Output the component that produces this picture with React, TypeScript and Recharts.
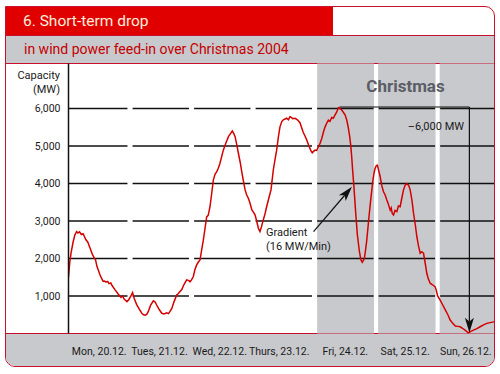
import React from "react";
import {
  ComposedChart,
  Line,
  XAxis,
  YAxis,
  ReferenceArea,
  ReferenceLine,
} from "recharts";

// hours since Mon 20.12. 00:00
const hours = [
  0, 0.5, 1.0, 1.8, 2.5, 3.2, 3.7, 4.3, 5.0, 5.7, 6.8, 7.5, 8.4, 9.2, 10.0, 10.5,
  11.1, 12.3, 13.5, 14.1, 14.6, 15.3, 15.8, 16.5, 17.0, 18.1, 19.3, 20.0, 20.5,
  21.1, 21.7, 22.3, 22.8, 23.5, 24.2, 25.0, 25.6, 26.6, 27.6, 28.6, 29.3, 29.9,
  30.5, 31.1, 32.0, 33.1, 33.8, 34.4, 35.4, 36.4, 37.3, 38.3, 39.0, 39.6, 40.3,
  41.2, 42.2, 42.8, 43.5, 44.2, 45.0, 46.1, 47.0, 47.4, 48.0, 48.7, 49.3, 50.0,
  50.6, 51.3, 52.0, 52.6, 53.3, 53.9, 54.5, 55.2, 55.8, 56.5, 57.2, 57.8, 58.4,
  59.1, 60.4, 61.4, 62.4, 63.2, 63.9, 64.5, 65.0, 65.6, 66.3, 67.0, 67.6, 68.2,
  68.9, 69.5, 70.2, 70.8, 71.5, 72.2, 72.8, 73.4, 74.1, 74.7, 75.3, 76.0, 76.7,
  77.3, 78.2, 79.0, 79.9, 80.6, 81.2, 81.9, 82.5, 83.2, 83.8, 84.5, 85.1, 85.8,
  86.4, 86.8, 87.5, 88.4, 89.3, 90.3, 91.0, 91.6, 92.3, 93.0, 93.8, 94.6, 95.1,
  95.5, 96.2, 96.8, 97.5, 98.2, 98.8, 99.5, 100.1, 100.8, 101.4, 102.0, 102.7,
  103.3, 104.0, 104.6, 105.3, 105.9, 106.6, 107.2, 107.9, 108.6, 109.2, 109.7,
  110.1, 110.5, 110.8, 111.4, 112.1, 112.7, 113.5, 114.1, 114.6, 115.0, 115.4,
  115.8, 116.3, 116.8, 117.2, 117.7, 118.2, 118.7, 119.2, 119.6, 120.1, 120.5,
  121.0, 121.6, 122.2, 122.9, 123.5, 124.2, 124.8, 125.5, 125.9, 126.3, 126.8,
  127.4, 128.1, 128.7, 129.4, 130.0, 130.7, 131.3, 132.0, 132.7, 133.3, 134.0,
  134.6, 135.3, 135.9, 136.5, 137.2, 137.8, 138.5, 139.1, 139.8, 140.4, 141.1,
  142.0, 143.0, 143.5, 144.0, 145.0, 146.0, 147.0, 148.0, 148.9, 149.9, 150.9,
  151.8, 152.8, 153.7, 154.7, 155.4, 156.0, 156.8, 158.0, 159.3, 160.6, 161.9,
  163.2, 164.5, 165.8, 166.0,
];

// wind power feed-in, MW
const capacity = [
  1500, 1900, 2150, 2440, 2630, 2720, 2680, 2710, 2640, 2660, 2500, 2440, 2280,
  2130, 2020, 1980, 1790, 1560, 1390, 1400, 1370, 1390, 1330, 1350, 1280, 1170,
  1060, 1000, 960, 1000, 920, 880, 850, 900, 980, 1090, 940, 770, 650, 540, 500,
  490, 510, 580, 750, 870, 840, 760, 640, 540, 520, 550, 530, 590, 670, 850,
  1030, 1060, 1120, 1170, 1300, 1430, 1410, 1380, 1430, 1520, 1700, 1830, 1900,
  1960, 2250, 2490, 2820, 3110, 3150, 3380, 3700, 4090, 4250, 4310, 4400, 4540,
  4890, 5080, 5250, 5330, 5400, 5330, 5250, 5050, 4800, 4560, 4310, 4080, 3830,
  3700, 3600, 3480, 3300, 3230, 3160, 3000, 2800, 2720, 2850, 3030, 3200, 3380,
  3620, 3830, 4360, 4650, 4890, 5250, 5510, 5650, 5700, 5720, 5740, 5700, 5780,
  5770, 5730, 5740, 5700, 5620, 5480, 5360, 5260, 5150, 5000, 4870, 4820, 4850,
  4890, 4880, 4980, 5080, 5200, 5380, 5510, 5620, 5690, 5660, 5760, 5740, 5830,
  5900, 6020, 6000, 5960, 5900, 5830, 5680, 5470, 5250, 5030, 4700, 4400, 3870,
  3160, 2630, 2180, 1960, 1900, 1940, 2000, 2180, 2450, 2800, 3100, 3430, 3750,
  4050, 4280, 4400, 4480, 4490, 4350, 4180, 3950, 3780, 3700, 3560, 3450, 3290,
  3350, 3200, 3160, 3280, 3250, 3400, 3380, 3600, 3830, 3950, 4000, 3950, 3830,
  3550, 3210, 2900, 2580, 2350, 2140, 2180, 2140, 1900, 1600, 1450, 1340, 1300,
  1250, 1150, 1000, 890, 760, 630, 500, 360, 270, 200, 190, 180, 140, 90, 50, 20,
  50, 90, 130, 180, 230, 270, 290, 310, 320,
];

const dayLabels = [
  "Mon, 20.12.",
  "Tues, 21.12.",
  "Wed, 22.12.",
  "Thurs, 23.12.",
  "Fri, 24.12.",
  "Sat, 25.12.",
  "Sun, 26.12.",
];
// where each day label sits, in hours
const dayTicks = [12, 35.5, 59, 82.2, 108, 131.3, 155];
const yTicks = [1000, 2000, 3000, 4000, 5000, 6000];
const christmasDays = [4, 5, 6]; // Fri, Sat, Sun

const X_MAX = 166;
const rows = hours.map((h, i) => ({ h, mw: capacity[i] }));

const RED = "#c8102e";
const GREY = "#c8c9cd";
const FONT = "Roboto, sans-serif";

const ArrowLine = (props: any) => {
  const { x1, y1, x2, y2 } = props;
  const dx = x2 - x1;
  const dy = y2 - y1;
  const len = Math.sqrt(dx * dx + dy * dy) || 1;
  const ux = dx / len;
  const uy = dy / len;
  const L = 15;
  const W = 4.5;
  const bx = x2 - ux * L;
  const by = y2 - uy * L;
  const nx = x2 - ux * L * 0.75;
  const ny = y2 - uy * L * 0.75;
  const pts = [
    `${x2},${y2}`,
    `${bx - uy * W},${by + ux * W}`,
    `${nx},${ny}`,
    `${bx + uy * W},${by - ux * W}`,
  ].join(" ");
  return (
    <g>
      <line x1={x1} y1={y1} x2={nx} y2={ny} stroke="#111" strokeWidth={1.2} />
      <polygon points={pts} fill="#111" />
    </g>
  );
};

const DayTick = ({ x, y, payload }: any) => (
  <text
    x={x}
    y={y + 21.5}
    textAnchor="middle"
    fontSize={10.5}
    fontFamily={FONT}
    fill="#1a1a1a"
  >
    {dayLabels[dayTicks.indexOf(payload.value)]}
  </text>
);

const abs = (extra: React.CSSProperties): React.CSSProperties => ({
  position: "absolute",
  fontFamily: FONT,
  whiteSpace: "nowrap",
  ...extra,
});

export default function App() {
  const gridSegments: { level: number; from: number; to: number }[] = [];
  yTicks.forEach((level) => {
    for (let d = 0; d < 7; d++) {
      gridSegments.push({
        level,
        from: d === 0 ? 0 : d * 24 + 1.0,
        to: Math.min(X_MAX, d * 24 + 24 - 1.0),
      });
    }
  });

  return (
    <div
      style={{
        position: "absolute",
        left: 0,
        top: 0,
        width: 500,
        height: 374,
        background: "#fff",
        overflow: "hidden",
      }}
    >
      {/* frame and bands */}
      <div
        style={{
          position: "absolute",
          left: 5,
          top: 6,
          width: 490,
          height: 361,
          boxSizing: "border-box",
          border: `1px solid ${RED}`,
          borderRadius: "0 10px 10px 10px",
          overflow: "hidden",
          background: "#fff",
        }}
      >
        <div
          style={{
            position: "absolute",
            left: 0,
            top: 0,
            width: 327,
            height: 28,
            background: "#e10000",
          }}
        />
        <div
          style={{
            position: "absolute",
            left: 0,
            top: 28,
            width: "100%",
            height: 29,
            boxSizing: "border-box",
            borderTop: `1px solid ${RED}`,
            borderBottom: `1px solid ${RED}`,
            background: GREY,
          }}
        />
        <div
          style={{
            position: "absolute",
            left: 0,
            top: 326,
            width: "100%",
            height: 40,
            boxSizing: "border-box",
            borderTop: `1px solid ${RED}`,
            background: GREY,
          }}
        />
      </div>

      <div style={{ position: "absolute", left: 0, top: 0 }}>
        <ComposedChart
          width={500}
          height={374}
          data={rows}
          margin={{ top: 63.5, right: 6, bottom: 10.5, left: 8.5 }}
        >
          {christmasDays.map((d) => (
            <ReferenceArea
              key={`xmas-${d}`}
              x1={d * 24 + (d === 4 ? 1.0 : 0.8)}
              x2={Math.min(X_MAX, d * 24 + 24 - 0.8)}
              fill={GREY}
              fillOpacity={1}
              stroke="none"
            />
          ))}
          {gridSegments.map((s, i) => (
            <ReferenceLine
              key={`g-${i}`}
              segment={[
                { x: s.from, y: s.level },
                { x: s.to, y: s.level },
              ]}
              stroke="#111"
              strokeWidth={1.3}
            />
          ))}
          <XAxis
            dataKey="h"
            type="number"
            domain={[0, X_MAX]}
            allowDataOverflow
            ticks={dayTicks}
            axisLine={false}
            tickLine={false}
            tickSize={0}
            tickMargin={0}
            height={30}
            tick={<DayTick />}
            interval={0}
          />
          <YAxis
            type="number"
            domain={[0, 7200]}
            ticks={yTicks}
            width={60}
            axisLine={{ stroke: "#111", strokeWidth: 1.5 }}
            tickLine={false}
            tickSize={0}
            tickMargin={8}
            tick={{ fontSize: 10.5, fill: "#1a1a1a", fontFamily: FONT }}
            tickFormatter={(v: number) => v.toLocaleString("en-US")}
          />
          <Line
            dataKey="mw"
            type="linear"
            stroke="#d40000"
            strokeWidth={1.5}
            dot={false}
            isAnimationActive={false}
          />
          {/* drop of 6,000 MW */}
          <ReferenceLine
            segment={[
              { x: 105.7, y: 6040 },
              { x: 156.4, y: 6040 },
            ]}
            stroke="#111"
            strokeWidth={1.2}
          />
          <ReferenceLine
            segment={[
              { x: 156.4, y: 6040 },
              { x: 156.4, y: 20 },
            ]}
            shape={<ArrowLine />}
          />
          {/* gradient arrow */}
          <ReferenceLine
            segment={[
              { x: 95.6, y: 2715 },
              { x: 110.6, y: 3915 },
            ]}
            shape={<ArrowLine />}
          />
        </ComposedChart>
      </div>

      {/* texts */}
      <div
        style={abs({
          left: 23,
          top: 10.8,
          lineHeight: "20px",
          fontSize: 15.5,
          color: "#fbefdb",
        })}
      >
        6. Short-term drop
      </div>
      <div
        style={abs({
          left: 24,
          top: 38.5,
          lineHeight: "20px",
          fontSize: 14,
          color: "#c40000",
        })}
      >
        in wind power feed-in over Christmas 2004
      </div>
      <div
        style={abs({
          right: 440,
          top: 69,
          lineHeight: "14px",
          fontSize: 11,
          color: "#1a1a1a",
          textAlign: "right",
        })}
      >
        Capacity
        <br />
        (MW)
      </div>
      <div
        style={abs({
          left: 405.5,
          top: 75,
          lineHeight: "22px",
          fontSize: 17,
          fontWeight: 700,
          color: "#5b5e66",
          transform: "translateX(-50%)",
        })}
      >
        Christmas
      </div>
      <div
        style={abs({
          right: 36,
          top: 119.5,
          lineHeight: "14px",
          fontSize: 11,
          color: "#1a1a1a",
        })}
      >
        –6,000 MW
      </div>
      <div
        style={abs({
          left: 266,
          top: 225.5,
          lineHeight: "14px",
          fontSize: 11,
          color: "#1a1a1a",
        })}
      >
        Gradient
        <br />
        (16 MW/Min)
      </div>
    </div>
  );
}
